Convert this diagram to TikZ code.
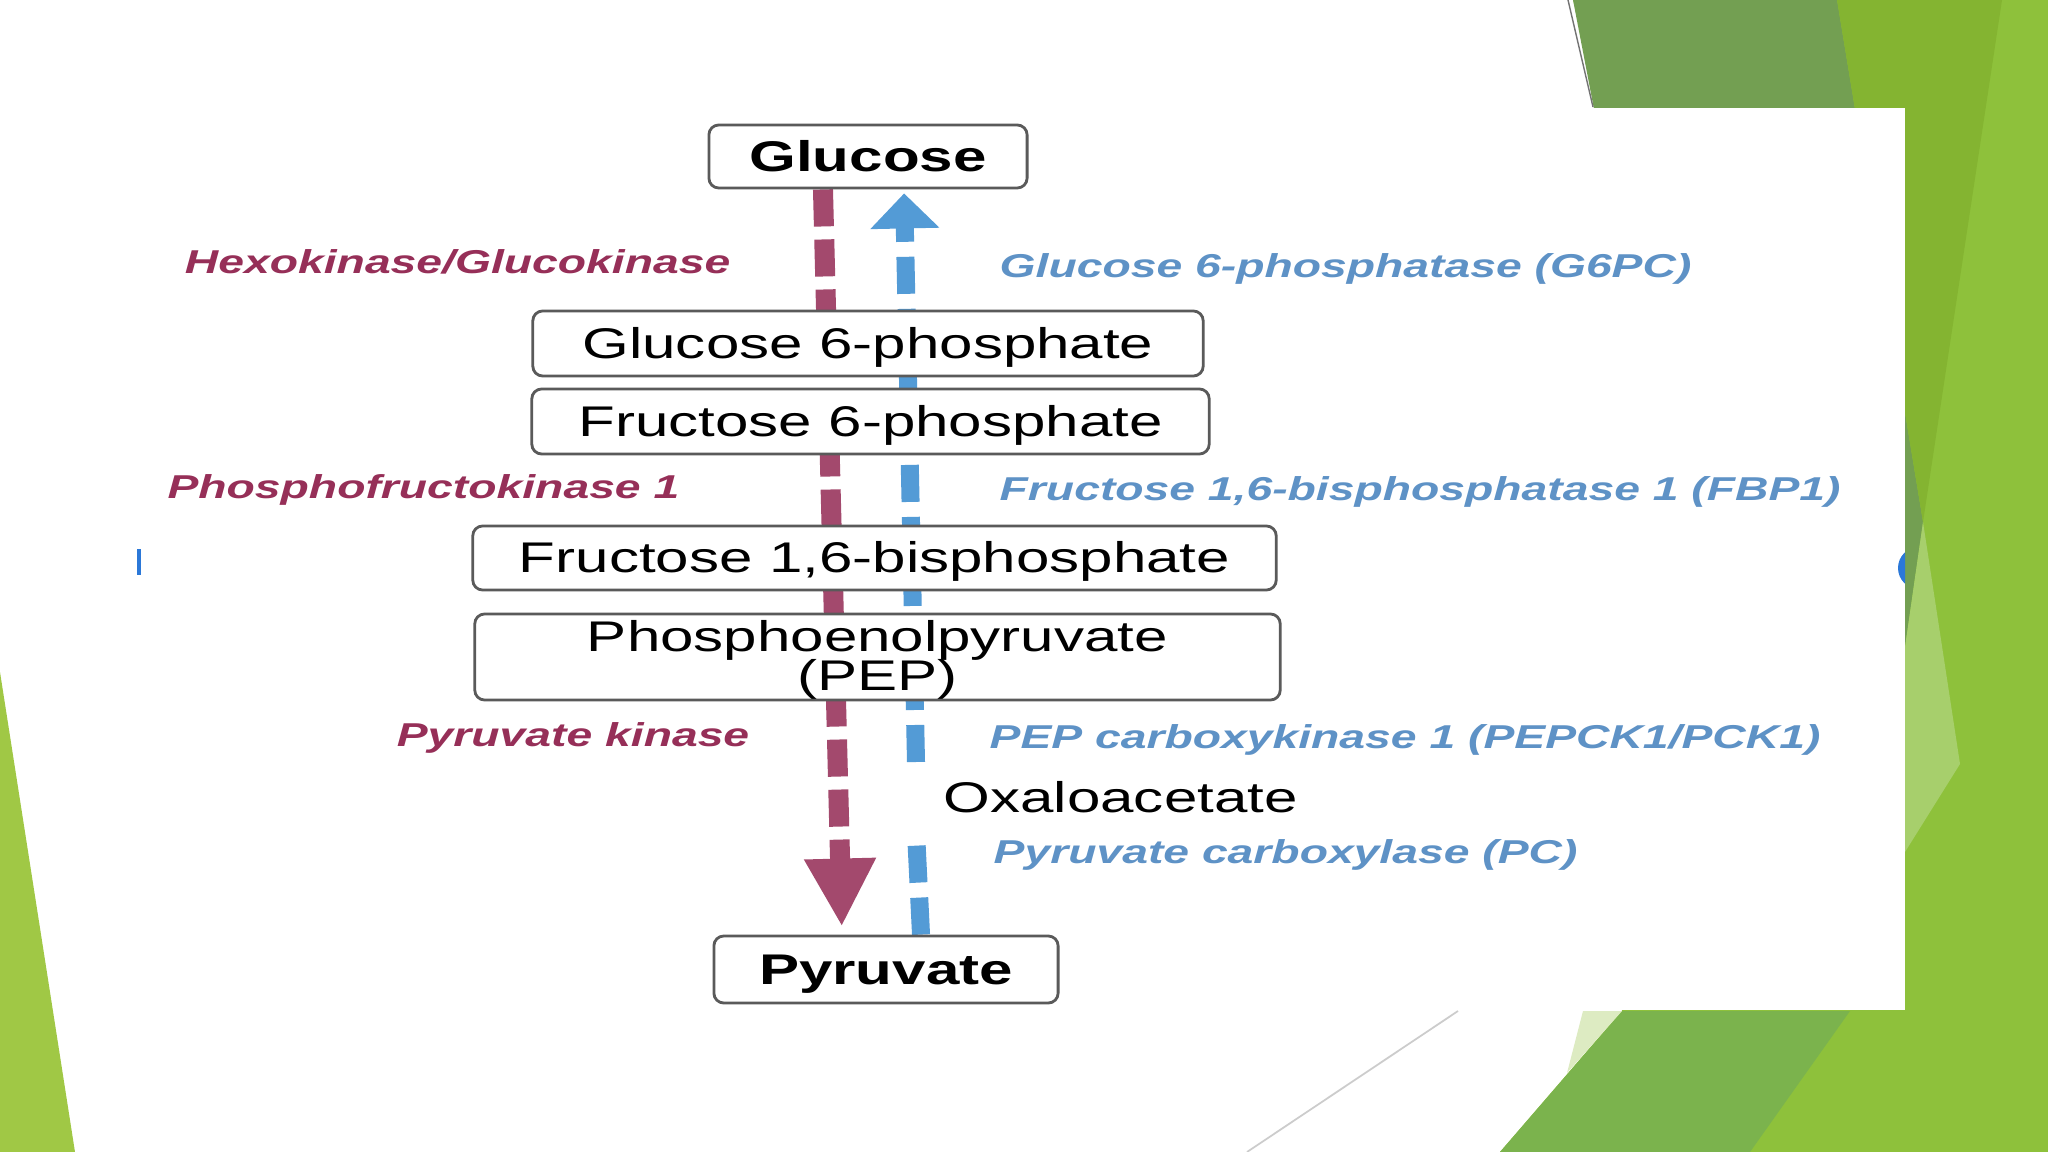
\documentclass[tikz,border=0pt]{standalone}
\usepackage{fontspec}
\setmainfont{Liberation Sans}
\newfontfamily\wide[FakeStretch=1.4]{Liberation Sans}
\usetikzlibrary{arrows.meta,positioning,calc}
\newcommand{\pepfont}{\wide\fontsize{12.2}{11}\selectfont\lineskiplimit=-20pt\relax}
\definecolor{kinred}{HTML}{962F58}
\definecolor{redflow}{HTML}{A3496D}
\definecolor{phosblue}{HTML}{5E92C6}
\definecolor{bluflow}{HTML}{539BD6}
\definecolor{boxgray}{HTML}{5A5A5A}
\definecolor{leafD}{HTML}{739F52}
\definecolor{leafM}{HTML}{84B431}
\definecolor{leafB}{HTML}{8EC13B}
\definecolor{leafP}{HTML}{A7CF6C}
\definecolor{leafBM}{HTML}{7BB34D}
\definecolor{leafL}{HTML}{A0C845}
\definecolor{leafPale}{HTML}{DDEBC2}
\definecolor{dotblue}{HTML}{2B78D8}
\pgfdeclarelayer{slide}
\pgfdeclarelayer{flow}
\pgfsetlayers{slide,flow,main}

\begin{document}
\begin{tikzpicture}[x=0.01cm,y=-0.01cm,
  met/.style={draw=boxgray,line width=0.8pt,rounded corners=2.8pt,fill=white,inner sep=0pt,
    text height=8.4pt,text depth=0pt,font=\wide\fontsize{12.2}{14}\selectfont},
  enz/.style={inner sep=0pt,font=\wide\fontsize{9.4}{11}\selectfont\bfseries\itshape},
  kin/.style={enz,text=kinred,anchor=east},
  pho/.style={enz,text=phosblue,anchor=west},
  down/.style={redflow,line width=0.2cm,dash pattern=on 0.37cm off 0.13cm,
    -{Triangle[width=0.67cm,length=0.68cm]},shorten >=0.08cm},
  up/.style={bluflow,line width=0.18cm,dash pattern=on 0.37cm off 0.15cm}]
\useasboundingbox (0,0) rectangle (2048,1152);

% slide background
\begin{pgfonlayer}{slide}
\fill[white] (0,0) rectangle (2048,1152);
\fill[leafL] (0,672) -- (75,1152) -- (0,1152) -- cycle;
\fill[leafB] (1573,0) -- (2048,0) -- (2048,1152) -- (1500,1152) -- (1700,920) -- (1607,109) -- cycle;
\fill[leafD] (1573,0) -- (1837,0) -- (1923,522) -- (1905,647) -- (1650,400) -- cycle;
\fill[leafM] (1837,0) -- (2002,0) -- (1923,522) -- cycle;
\fill[leafP] (1905,647) -- (1923,522) -- (1960,764) -- (1905,852) -- cycle;
\fill[leafBM] (1500,1152) -- (1622,1011) -- (1850,1011) -- (1750,1152) -- cycle;
\fill[leafPale] (1583,1011) -- (1622,1011) -- (1567,1073) -- cycle;
\draw[black!20,line width=0.5pt] (1247,1152) -- (1458,1011);
\draw[black!55,line width=0.4pt] (1568,0) -- (1593,107);
\fill[white] (140,108) rectangle (1905,1010);
\fill[dotblue] (137,549) rectangle (141,575);
\begin{scope}
  \clip (1880,530) rectangle (1905,610);
  \fill[dotblue] (1919,568) circle (0.21cm);
\end{scope}
\end{pgfonlayer}

% metabolites
\node[met,minimum width=3.18cm,minimum height=0.63cm] (glu) at (868,156.5) {\bfseries Glucose};
\node[met,minimum width=6.70cm,minimum height=0.65cm] (g6p) at (868,343.5) {Glucose 6-phosphate};
\node[met,minimum width=6.77cm,minimum height=0.65cm] (f6p) at (870.5,421.5) {Fructose 6-phosphate};
\node[met,minimum width=8.03cm,minimum height=0.64cm] (fbp) at (874.5,558) {Fructose 1,6-bisphosphate};
\node[met,minimum width=8.05cm,minimum height=0.86cm,align=center,text height=18.8pt,
  font=\pepfont] (pep) at (877.5,657) {Phosphoenolpyruvate\\(PEP)};
\node[met,minimum width=3.44cm,minimum height=0.67cm] (pyr) at (886,969.5) {\bfseries Pyruvate};
\node[inner sep=0pt,anchor=west,font=\wide\fontsize{12.2}{14}\selectfont] (oaa) at (943,797) {Oxaloacetate};

% enzymes
\node[kin] (hk) at (731,262) {Hexokinase/Glucokinase};
\node[kin] (pfk) at (680,490) {Phosphofructokinase 1};
\node[kin] (pk) at (750,738) {Pyruvate kinase};
\node[pho] (g6pc) at (999,269) {Glucose 6-phosphatase (G6PC)};
\node[pho] (fbp1) at (999,492) {Fructose 1,6-bisphosphatase 1 (FBP1)};
\node[pho] (pck) at (989,740) {PEP carboxykinase 1 (PEPCK1/PCK1)};
\node[pho] (pc) at (993,855) {Pyruvate carboxylase (PC)};

\coordinate (gaplo) at ($(oaa.west)+(-27,35)$);
\coordinate (gaphi) at ($(oaa.west)+(-27,-35)$);

\begin{pgfonlayer}{flow}
\draw[down] ([xshift=-0.45cm]glu.south) -- ([xshift=-0.44cm]pyr.north);
\draw[up] ([xshift=0.35cm]pyr.north) -- (gaplo);
\draw[up,-{Triangle[width=0.67cm,length=0.35cm]},shorten >=0.04cm] (gaphi) -- ([xshift=0.36cm]glu.south);
\end{pgfonlayer}
\end{tikzpicture}
\end{document}
